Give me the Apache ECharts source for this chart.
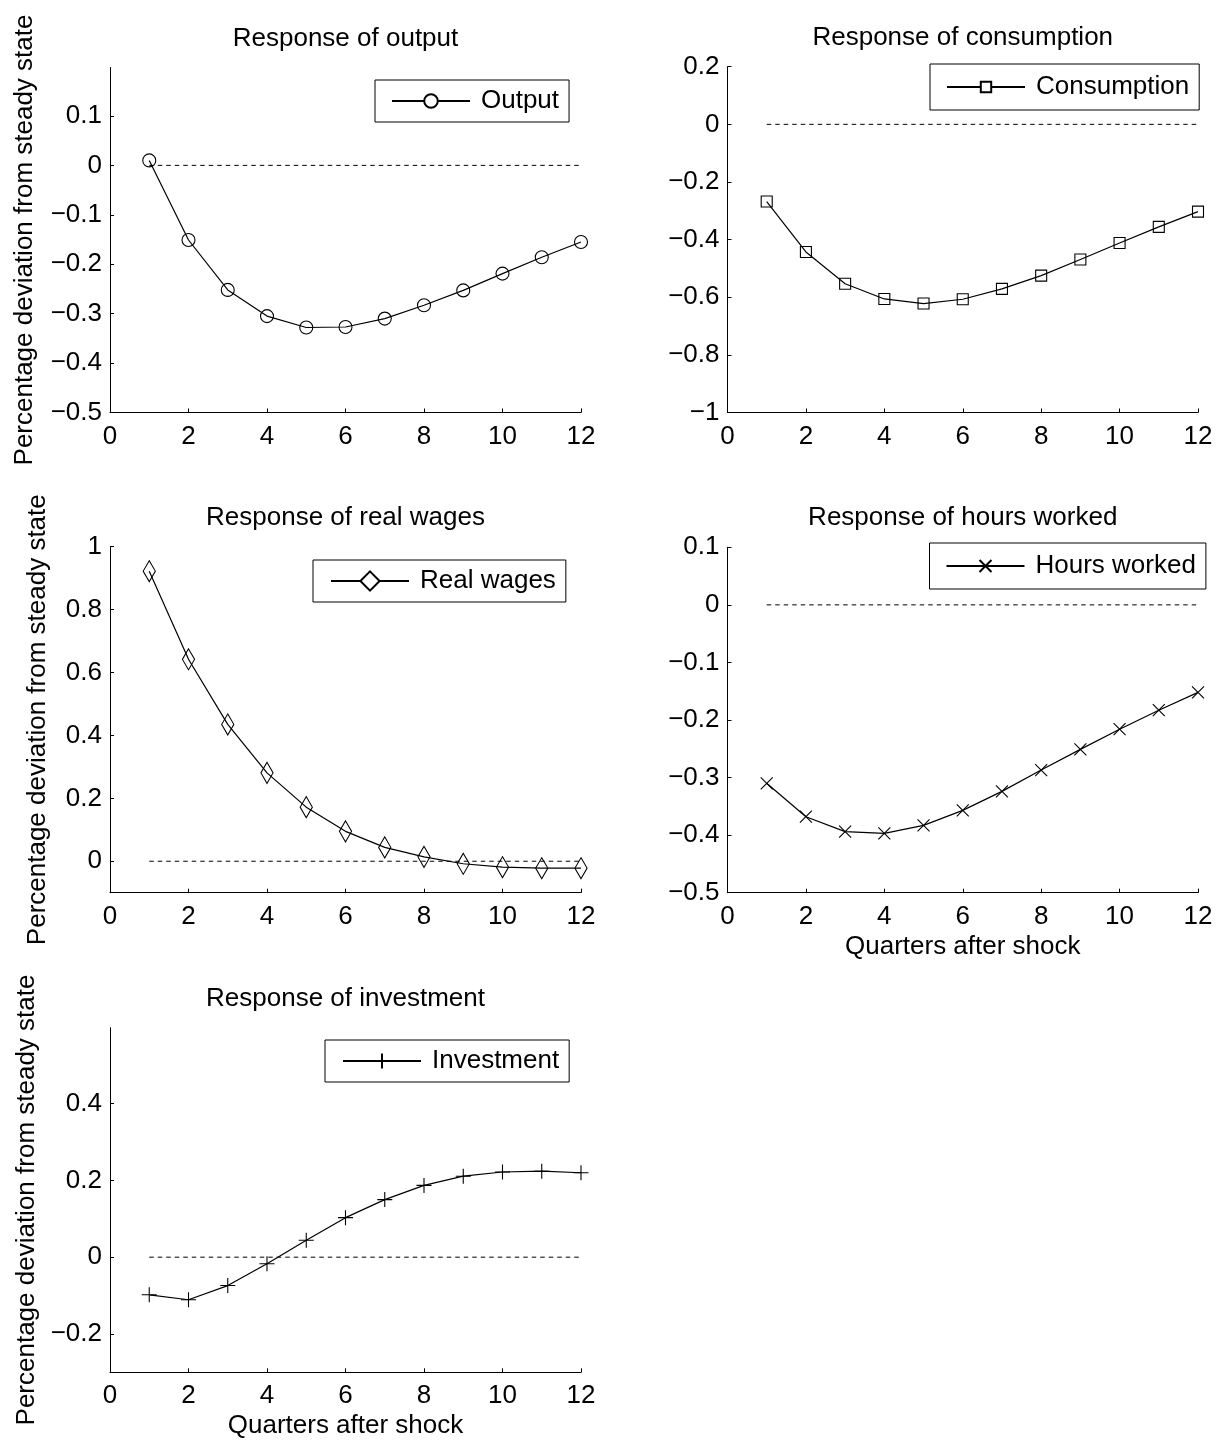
<!DOCTYPE html>
<html>
<head>
<meta charset="utf-8">
<title>Impulse responses</title>
<script src="https://cdn.jsdelivr.net/npm/echarts@6/dist/echarts.min.js"></script>
<style>
  html, body { margin: 0; padding: 0; background: #fff; }
  #chart { width: 1221px; height: 1443px; }
</style>
</head>
<body>
<div id="chart"></div>
<script>
// Quarters after the shock and the response of each variable (percent deviation from steady state)
const quarters = [1, 2, 3, 4, 5, 6, 7, 8, 9, 10, 11, 12];
const outputResp      = [0.010, -0.151, -0.252, -0.305, -0.328, -0.327, -0.310, -0.283, -0.253, -0.219, -0.186, -0.155];
const consumptionResp = [-0.268, -0.443, -0.553, -0.606, -0.622, -0.607, -0.571, -0.525, -0.469, -0.412, -0.356, -0.303];
const realWagesResp   = [0.922, 0.642, 0.435, 0.281, 0.172, 0.095, 0.044, 0.014, -0.008, -0.019, -0.022, -0.022];
const hoursResp       = [-0.310, -0.368, -0.394, -0.397, -0.383, -0.357, -0.324, -0.287, -0.251, -0.216, -0.183, -0.152];
const investmentResp  = [-0.098, -0.111, -0.074, -0.017, 0.044, 0.103, 0.150, 0.187, 0.211, 0.222, 0.224, 0.220];

// Steady-state reference line spans the plotted quarters
const baselineSpan = [1, 12];
const steadyState = 0;

// Tick labels
const xTicks = [0, 2, 4, 6, 8, 10, 12];
const outputTicks = [-0.5, -0.4, -0.3, -0.2, -0.1, 0, 0.1];
const consumptionTicks = [-1, -0.8, -0.6, -0.4, -0.2, 0, 0.2];
const realWagesTicks = [0, 0.2, 0.4, 0.6, 0.8, 1];
const hoursTicks = [-0.5, -0.4, -0.3, -0.2, -0.1, 0, 0.1];
const investmentTicks = [-0.2, 0, 0.2, 0.4];

const FONT = "'Liberation Sans', Arial, Helvetica, sans-serif";
const FS = 26;
const yTitle = 'Percentage deviation from steady state';
const xTitle = 'Quarters after shock';

const panels = [
  { name: 'Output', title: 'Response of output', values: outputResp, ticks: outputTicks,
    yMin: -0.5, yMax: 0.198,
    grid: { left: 110, top: 67.5, width: 471, height: 345 },
    symbol: 'circle', symbolSize: 13, legendItemH: 17,
    legend: { left: 375, top: 80, pad: [8, 10, 8, 16] },
    yName: true, yGap: 72, xName: false },
  { name: 'Consumption', title: 'Response of consumption', values: consumptionResp, ticks: consumptionTicks,
    yMin: -1, yMax: 0.2,
    grid: { left: 727.5, top: 66.7, width: 470.5, height: 345.8 },
    symbol: 'rect', symbolSize: 11, legendItemH: 13,
    legend: { left: 930, top: 64, pad: [10, 10, 10, 16] },
    yName: false, xName: false },
  { name: 'Real wages', title: 'Response of real wages', values: realWagesResp, ticks: realWagesTicks,
    yMin: -0.1, yMax: 1,
    grid: { left: 110, top: 546.7, width: 471, height: 346 },
    symbol: 'path://M8,0L16,10.5L8,21L0,10.5Z', symbolSize: [16, 21], legendItemH: 24,
    legend: { left: 313, top: 560, pad: [8, 10, 8, 17] },
    yName: true, yGap: 59, xName: false },
  { name: 'Hours worked', title: 'Response of hours worked', values: hoursResp, ticks: hoursTicks,
    yMin: -0.5, yMax: 0.1,
    grid: { left: 727.5, top: 547.3, width: 470.5, height: 345.4 },
    symbol: 'path://M0,0L12,12M12,0L0,12', symbolSize: 12, legendItemH: 15,
    legend: { left: 929.5, top: 543, pad: [10, 10, 10, 16] },
    yName: false, xName: true },
  { name: 'Investment', title: 'Response of investment', values: investmentResp, ticks: investmentTicks,
    yMin: -0.3, yMax: 0.598,
    grid: { left: 110, top: 1027.7, width: 471, height: 344.6 },
    symbol: 'path://M7.5,0L7.5,15M0,7.5L15,7.5', symbolSize: 15, legendItemH: 19,
    legend: { left: 325, top: 1040, pad: [8, 10, 8, 17] },
    yName: true, yGap: 70, xName: true }
];

function fmt(v) {
  const r = Math.round(v * 10) / 10;
  if (r === 0) return '0';
  const s = String(Math.abs(r));
  return r < 0 ? '\u2212' + s : s;
}

const textBase = { color: '#000', fontFamily: FONT, fontSize: FS };

const grids = [], xAxes = [], yAxes = [], series = [], legends = [], graphics = [];

panels.forEach((p, i) => {
  grids.push(Object.assign({ containLabel: false }, p.grid));

  xAxes.push({
    type: 'value', gridIndex: i, min: 0, max: 12, interval: 2,
    axisLine: { show: true, onZero: false, lineStyle: { color: '#000', width: 1 } },
    axisTick: { show: true, inside: true, length: 4, lineStyle: { color: '#000' }, customValues: xTicks },
    axisLabel: Object.assign({ margin: 11, customValues: xTicks, formatter: v => fmt(v) }, textBase),
    splitLine: { show: false },
    name: p.xName ? xTitle : '', nameLocation: 'middle', nameGap: 41,
    nameTextStyle: textBase
  });

  yAxes.push({
    type: 'value', gridIndex: i, min: p.yMin, max: p.yMax,
    axisLine: { show: true, onZero: false, lineStyle: { color: '#000', width: 1 } },
    axisTick: { show: true, inside: true, length: 4, lineStyle: { color: '#000' }, customValues: p.ticks },
    axisLabel: Object.assign({ margin: 8, customValues: p.ticks, formatter: v => fmt(v) }, textBase),
    splitLine: { show: false },
    name: p.yName ? yTitle : '', nameLocation: 'middle', nameGap: p.yGap || 60,
    nameTextStyle: textBase
  });

  series.push({
    name: p.name, type: 'line', xAxisIndex: i, yAxisIndex: i,
    data: quarters.map((q, k) => [q, p.values[k]]),
    symbol: p.symbol, symbolSize: p.symbolSize, symbolKeepAspect: true,
    showAllSymbol: true,
    lineStyle: { color: '#000', width: 1.2 },
    itemStyle: { color: 'rgba(0,0,0,0)', borderColor: '#000', borderWidth: 1.1 },
    z: 3, silent: true
  });

  series.push({
    name: 'steady-' + i, type: 'line', xAxisIndex: i, yAxisIndex: i,
    data: baselineSpan.map(q => [q, steadyState]),
    symbol: 'none',
    lineStyle: { color: '#000', width: 1, type: [4.5, 4] },
    z: 2, silent: true
  });

  legends.push({
    data: [p.name], left: p.legend.left, top: p.legend.top,
    orient: 'horizontal', selectedMode: false,
    padding: p.legend.pad,
    itemWidth: 78, itemHeight: p.legendItemH,
    borderColor: '#000', borderWidth: 1, borderRadius: 0,
    backgroundColor: '#fff',
    itemStyle: { color: '#fff' },
    textStyle: Object.assign({ padding: [0, 0, 0, 6] }, textBase)
  });

  graphics.push({
    type: 'text',
    x: p.grid.left + p.grid.width / 2,
    y: p.grid.top - 29,
    style: { text: p.title, fill: '#000', font: FS + 'px ' + FONT, align: 'center', verticalAlign: 'middle' }
  });
});

const chart = echarts.init(document.getElementById('chart'), null, { renderer: 'canvas' });
chart.setOption({
  animation: false,
  backgroundColor: '#fff',
  grid: grids,
  xAxis: xAxes,
  yAxis: yAxes,
  legend: legends,
  series: series,
  graphic: graphics
});
</script>
</body>
</html>
